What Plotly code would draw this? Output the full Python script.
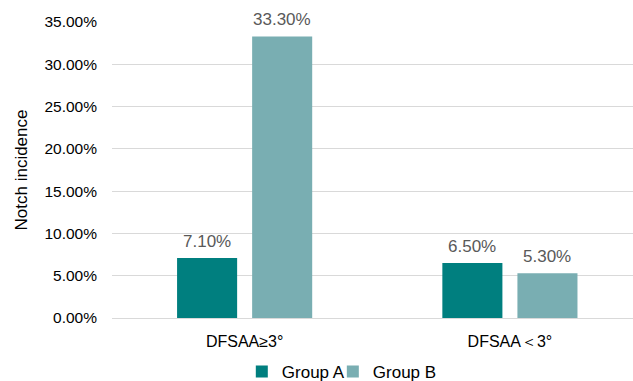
import plotly.graph_objects as go

categories = ["DFSAA≥3°", "DFSAA＜3°"]
group_a = [7.10, 6.50]
group_b = [33.30, 5.30]
series_names = ["Group A", "Group B"]
series_colors = ["#007F7F", "#79AEB2"]
y_ticks = [0, 5, 10, 15, 20, 25, 30, 35]

fig = go.Figure()
for i, (name, vals, col) in enumerate(zip(series_names, [group_a, group_b], series_colors)):
    fig.add_trace(go.Bar(name=name, x=categories, y=vals, marker_color=col,
                         marker_line_width=0, cliponaxis=False,
                         legend="legend" if i == 0 else "legend2"))

# value labels
shifts = [-37.5, 37.5]
for vals, xs in zip([group_a, group_b], shifts):
    for c, v in zip(categories, vals):
        fig.add_annotation(x=c, y=v, text=f"{v:.2f}%", showarrow=False,
                           xshift=xs, yshift=5, yanchor="bottom",
                           font=dict(family="Liberation Sans, Arial", size=17, color="#595959"))

leg_common = dict(orientation="h", xanchor="left", xref="container",
                  y=9 / 381, yanchor="middle", yref="container",
                  font=dict(size=17, color="#000000"), itemwidth=30,
                  bgcolor="rgba(0,0,0,0)")

fig.update_layout(
    width=633, height=381,
    margin=dict(l=112, r=0, t=22, b=63, autoexpand=False),
    paper_bgcolor="white", plot_bgcolor="white",
    barmode="group", bargap=0.434, bargroupgap=0.2,
    font=dict(family="Liberation Sans, Arial", size=15, color="#000000"),
    showlegend=True,
    legend=dict(x=0.382, **leg_common),
    legend2=dict(x=0.5258, **leg_common),
    xaxis=dict(range=[-0.5, 1.464], showgrid=False, showline=True, linecolor="#D9D9D9",
               linewidth=1, ticks="", tickfont=dict(size=16), ticklabelstandoff=9),
    yaxis=dict(title=dict(text="Notch incidence", font=dict(size=17), standoff=12),
               range=[0, 35], tickvals=y_ticks,
               ticktext=[f"{t:.2f}%" for t in y_ticks],
               showgrid=True, gridcolor="#D9D9D9", gridwidth=1, zeroline=False,
               showline=False, ticks="", tickfont=dict(size=15.5), ticklabelstandoff=14),
)

fig.write_html("out.html")
